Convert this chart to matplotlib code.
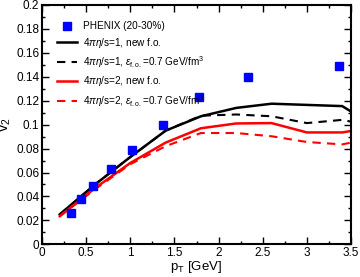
import numpy as np
import matplotlib
matplotlib.use('Agg')
import matplotlib.pyplot as plt
from matplotlib.ticker import MultipleLocator, FuncFormatter

plt.rcParams['font.family'] = ['Liberation Sans', 'DejaVu Sans']
plt.rcParams['mathtext.fontset'] = 'custom'
plt.rcParams['mathtext.rm'] = 'Liberation Sans'
plt.rcParams['mathtext.it'] = 'Liberation Sans:italic'

# PHENIX data (20-30%)
pt_data = [0.33, 0.44, 0.58, 0.78, 1.02, 1.37, 1.78, 2.33, 3.36]
v2_data = [0.026, 0.038, 0.049, 0.063, 0.079, 0.100, 0.123, 0.140, 0.149]

# hydro curves
pt_c1 = [0.2, 0.6, 1.0, 1.4, 1.8, 2.2, 2.6, 3.0, 3.4, 3.5]
v2_s1 = [0.025, 0.050, 0.073, 0.095, 0.107, 0.114, 0.1175, 0.1165, 0.1155, 0.111]
v2_d1 = [0.025, 0.050, 0.073, 0.095, 0.1075, 0.1085, 0.107, 0.1013, 0.104, 0.1025]
v2_s2 = [0.0235, 0.047, 0.068, 0.085, 0.097, 0.101, 0.1013, 0.0935, 0.0935, 0.0947]
v2_d2 = [0.0235, 0.046, 0.067, 0.082, 0.093, 0.093, 0.0903, 0.0855, 0.0835, 0.085]

fig = plt.figure(figsize=(3.6, 2.77), dpi=100)
ax = fig.add_axes([0.117, 0.118, 0.858, 0.864])

ax.plot(pt_data, v2_data, 's', color='#0000ff', ms=5.8, label='PHENIX (20-30%)', zorder=3)
ax.plot(pt_c1, v2_s1, '-', color='black', lw=1.8, label=r'4$\pi\eta$/s=1, new f.o.')
ax.plot(pt_c1, v2_d1, '--', color='black', lw=1.5, dashes=(4, 3),
        label=r'4$\pi\eta$/s=1, $\varepsilon_{\rm f.o.}$=0.7 GeV/fm$^3$')
ax.plot(pt_c1, v2_s2, '-', color='#ff0000', lw=1.8, label=r'4$\pi\eta$/s=2, new f.o.')
ax.plot(pt_c1, v2_d2, '--', color='#ff0000', lw=1.5, dashes=(4, 3),
        label=r'4$\pi\eta$/s=2, $\varepsilon_{\rm f.o.}$=0.7 GeV/fm$^3$')

ax.set_xlim(0, 3.5)
ax.set_ylim(0, 0.2)
ax.xaxis.set_major_locator(MultipleLocator(0.5))
ax.xaxis.set_minor_locator(MultipleLocator(0.25))
ax.yaxis.set_major_locator(MultipleLocator(0.02))
ax.yaxis.set_minor_locator(MultipleLocator(0.01))
fmt = FuncFormatter(lambda v, p: f'{round(v, 3):g}')
ax.xaxis.set_major_formatter(fmt)
ax.yaxis.set_major_formatter(fmt)
ax.tick_params(which='both', direction='in', top=True, right=True, labelsize=8.5)
ax.tick_params(which='major', length=5, width=1, pad=2)
ax.tick_params(which='minor', length=2.5, width=1)
for s in ax.spines.values():
    s.set_linewidth(1.5)

ax.set_xlabel(r'p$_{\rm T}$ [GeV]', fontsize=9.5, labelpad=0)
ax.set_ylabel(r'v$_2$', fontsize=10.5, labelpad=2)

ax.legend(loc='upper left', frameon=False, fontsize=7.2, handlelength=2.0,
          handletextpad=0.6, labelspacing=0.45, borderaxespad=0.5,
          bbox_to_anchor=(0.02, 0.97))

fig.savefig('out.png', dpi=100)
